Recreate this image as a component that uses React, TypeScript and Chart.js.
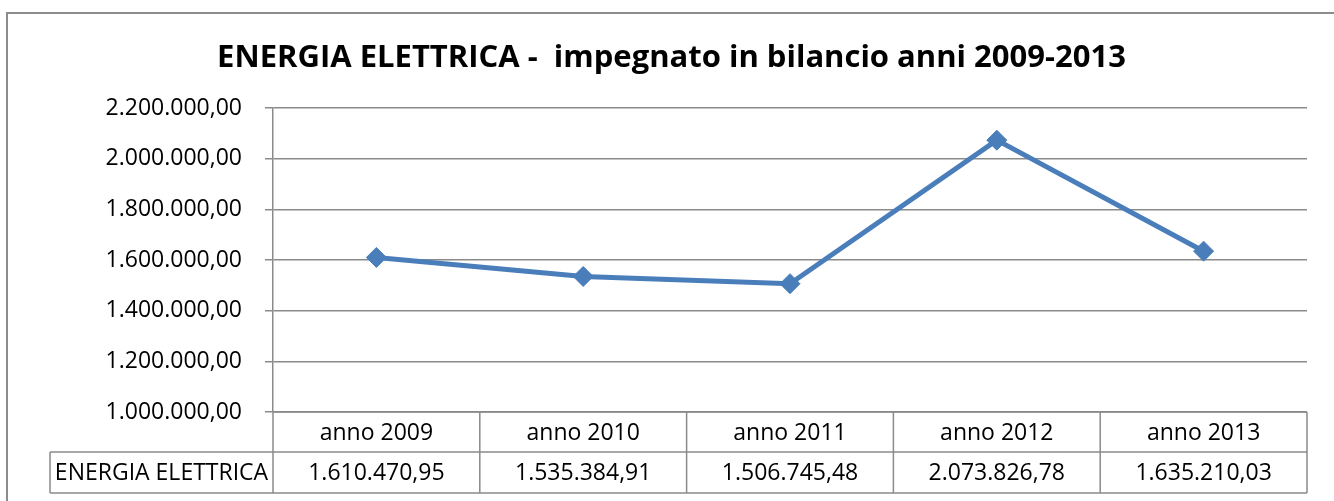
import React, { useEffect, useRef } from 'react';
import { Chart, registerables } from 'chart.js';

Chart.register(...registerables);

const TITLE = 'ENERGIA ELETTRICA -  impegnato in bilancio anni 2009-2013';
const SERIES_NAME = 'ENERGIA ELETTRICA';
const categories = ['anno 2009', 'anno 2010', 'anno 2011', 'anno 2012', 'anno 2013'];
const values = [1610470.95, 1535384.91, 1506745.48, 2073826.78, 1635210.03];
const Y_MIN = 1000000;
const Y_MAX = 2200000;
const Y_STEP = 200000;

const FONT = "'Open Sans', 'Noto Sans', sans-serif";
const GRID = '#8a8a8a';
const LINE = '#4a7ebb';

function fmt(v: number): string {
  const [i, d] = v.toFixed(2).split('.');
  return i.replace(/\B(?=(\d{3})+(?!\d))/g, '.') + ',' + d;
}

const tablePlugin = {
  id: 'dataTable',
  beforeDraw(chart: any) {
    const { ctx, width, height } = chart;
    ctx.save();
    ctx.fillStyle = '#fff';
    ctx.fillRect(0, 0, width, height);
    ctx.restore();
  },
  afterDraw(chart: any) {
    const { ctx, chartArea: ca, scales } = chart;
    const x = scales.x;
    const n = categories.length;
    const w = (ca.right - ca.left) / n;
    const top = ca.bottom;
    const mid = top + 40;
    const bot = mid + 41;
    const labelLeft = ca.left - 223;
    ctx.save();
    ctx.strokeStyle = GRID;
    ctx.lineWidth = 1.5;
    const line = (x1: number, y1: number, x2: number, y2: number) => {
      ctx.beginPath();
      ctx.moveTo(x1, y1);
      ctx.lineTo(x2, y2);
      ctx.stroke();
    };
    line(ca.left, top, ca.right, top);
    line(labelLeft, mid, ca.right, mid);
    line(labelLeft, bot, ca.right, bot);
    line(labelLeft, mid, labelLeft, bot);
    for (let i = 0; i < n; i++) {
      const c = x.getPixelForValue(i);
      line(c - w / 2, top, c - w / 2, bot);
      if (i === n - 1) line(c + w / 2, top, c + w / 2, bot);
    }
    ctx.fillStyle = '#000';
    ctx.font = `23px ${FONT}`;
    ctx.textAlign = 'center';
    ctx.textBaseline = 'middle';
    for (let i = 0; i < n; i++) {
      const c = x.getPixelForValue(i);
      ctx.fillText(categories[i], c, (top + mid) / 2 + 1);
      ctx.fillText(fmt(values[i]), c, (mid + bot) / 2 + 1);
    }
    ctx.fillText(SERIES_NAME, (labelLeft + ca.left) / 2, (mid + bot) / 2 + 1);
    // outer chart border
    ctx.lineWidth = 2;
    ctx.strokeStyle = '#8c8c8c';
    ctx.strokeRect(7, 13, 1400, 600);
    ctx.restore();
  },
};

export default function App() {
  const ref = useRef<HTMLCanvasElement>(null);
  useEffect(() => {
    if (!ref.current) return;
    const chart = new Chart(ref.current, {
      type: 'line',
      data: {
        labels: categories,
        datasets: [
          {
            label: SERIES_NAME,
            data: values,
            borderColor: LINE,
            backgroundColor: LINE,
            borderWidth: 5,
            pointStyle: 'rectRot',
            pointRadius: 10,
            pointBorderWidth: 1,
            pointBackgroundColor: LINE,
            pointBorderColor: LINE,
            tension: 0,
          },
        ],
      },
      options: {
        animation: false,
        responsive: false,
        devicePixelRatio: 1,
        layout: { padding: { left: 36, right: 27, top: 0, bottom: 89 } },
        plugins: {
          legend: { display: false },
          tooltip: { enabled: false },
          title: {
            display: true,
            text: TITLE,
            color: '#000',
            font: { family: FONT, size: 31, weight: 'bold' },
            padding: { top: 40, bottom: 31 },
          },
        },
        scales: {
          x: {
            type: 'category',
            display: false,
            offset: true,
          },
          y: {
            min: Y_MIN,
            max: Y_MAX,
            afterFit: (s: any) => {
              s.width = 237;
            },
            ticks: {
              stepSize: Y_STEP,
              color: '#000',
              padding: 23,
              font: { family: FONT, size: 23 },
              callback: (v: any) => fmt(Number(v)),
            },
            grid: { color: GRID, lineWidth: 1.5, tickLength: 8, drawTicks: true },
            border: { display: true, color: GRID, width: 1.5 },
          },
        },
      },
      plugins: [tablePlugin],
    });
    return () => chart.destroy();
  }, []);
  return (
    <div style={{ position: 'fixed', left: 0, top: 0, width: 1334, height: 501 }}>
      <canvas ref={ref} width={1334} height={501} />
    </div>
  );
}
